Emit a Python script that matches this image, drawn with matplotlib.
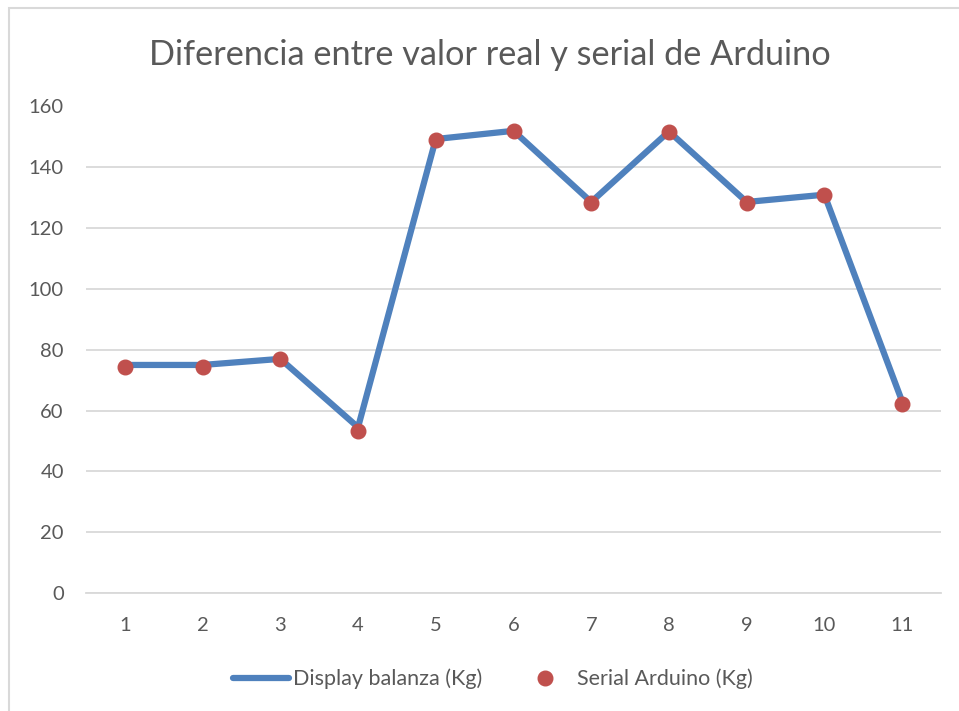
import matplotlib
matplotlib.use("Agg")
import matplotlib.pyplot as plt
from matplotlib.patches import Rectangle
from matplotlib.lines import Line2D

categories = [1, 2, 3, 4, 5, 6, 7, 8, 9, 10, 11]
display_balanza = [75.0, 75.0, 77.0, 54.5, 149.3, 152.0, 128.6, 151.8, 128.6, 131.0, 63.0]
serial_arduino = [74.3, 74.3, 77.0, 53.4, 149.0, 151.8, 128.2, 151.7, 128.2, 130.9, 62.1]
yticks = [0, 20, 40, 60, 80, 100, 120, 140, 160]
title = "Diferencia entre valor real y serial de Arduino"

plt.rcParams['font.family'] = ['Lato', 'DejaVu Sans']
W, H = 959, 711
fig = plt.figure(figsize=(W / 100, H / 100), dpi=100)

# chart border (top and left visible)
fig.patches.append(Rectangle((9 / W, -0.1), 1.2, 1 - 8 / H + 0.1, transform=fig.transFigure,
                             fill=False, edgecolor='#d9d9d9', linewidth=1.5))

ax = fig.add_axes([86 / W, 1 - 593 / H, (941 - 86) / W, (593 - 106.5) / H])
ax.set_xlim(0.5, 11.5)
ax.set_ylim(0, 160)
ax.set_yticks(yticks)
ax.set_xticks(categories)
ax.grid(axis='y', color='#d9d9d9', linewidth=1.3)
ax.set_axisbelow(True)
for s in ['top', 'right', 'left']:
    ax.spines[s].set_visible(False)
ax.spines['bottom'].set_color('#d9d9d9')
ax.spines['bottom'].set_linewidth(1.3)
ax.tick_params(axis='both', length=0, labelsize=14.5, labelcolor='#595959')
ax.tick_params(axis='y', pad=16)
ax.tick_params(axis='x', pad=17)

ax.plot(categories, display_balanza, color='#4f81bd', linewidth=4.5, solid_capstyle='round',
        solid_joinstyle='round', zorder=2)
ax.plot(categories, serial_arduino, linestyle='none', marker='o', markersize=10.5,
        color='#c0504d', zorder=3)

fig.text(490 / W, 1 - 55 / H, title, ha='center', va='center', fontsize=24.7, color='#595959')

handles = [Line2D([0], [0], color='#4f81bd', linewidth=4.5, solid_capstyle='round'),
           Line2D([0], [0], linestyle='none', marker='o', markersize=10.5, color='#c0504d')]
leg = fig.legend(handles, ['Display balanza (Kg)', 'Serial Arduino (Kg)'], loc='center',
                 bbox_to_anchor=(0.514, 1 - 679 / H), ncol=2, frameon=False, fontsize=15.5,
                 handlelength=2.6, handletextpad=0.2, columnspacing=1.6)
for t in leg.get_texts():
    t.set_color('#595959')

fig.savefig('out.png', dpi=100)
